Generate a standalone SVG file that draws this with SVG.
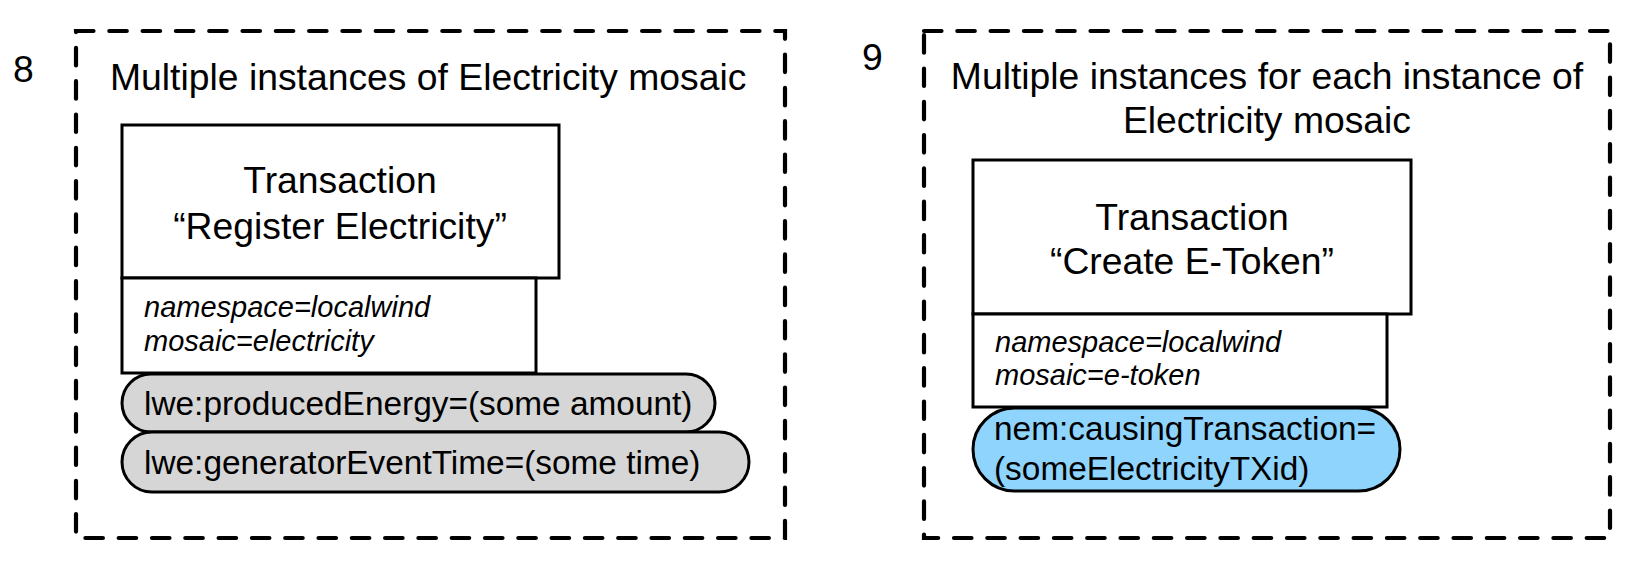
<svg xmlns="http://www.w3.org/2000/svg" width="1645" height="573" viewBox="0 0 1645 573">
<style>
  .dash { fill: none; stroke: #000; stroke-width: 4.2; stroke-dasharray: 17.5 15.8; stroke-linecap: round; }
  .box { fill: #fff; stroke: #000; stroke-width: 3; }
  .gray { fill: #d6d6d6; stroke: #000; stroke-width: 3; }
  .blue { fill: #8fd4fd; stroke: #000; stroke-width: 3; }
  text { font-family: "Liberation Sans", Arial, Helvetica, sans-serif; fill: #000; }
  .big { font-size: 37.3px; }
  .mid { font-size: 33.4px; }
  .it { font-size: 29px; font-style: italic; }
  .c { text-anchor: middle; }
</style>
<rect width="1645" height="573" fill="#fff"/>
<g id="panel8">
  <rect class="dash" x="76" y="31" width="709" height="507"/>
  <text class="big" x="13" y="82">8</text>
  <text class="big" x="110" y="90">Multiple instances of Electricity mosaic</text>
  <g id="tx-register">
    <rect class="box" x="122" y="125" width="437" height="153"/>
    <text class="big c" x="340" y="193">Transaction</text>
    <text class="big c" x="340" y="239">“Register Electricity”</text>
  </g>
  <g id="attrs-register">
    <rect class="box" x="122" y="278" width="414" height="95"/>
    <text class="it" x="144" y="317">namespace=localwind</text>
    <text class="it" x="144" y="351">mosaic=electricity</text>
  </g>
  <g id="prop-energy">
    <rect class="gray" x="122" y="374" width="593" height="58" rx="29" ry="29"/>
    <text class="mid" x="144" y="415">lwe:producedEnergy=(some amount)</text>
  </g>
  <g id="prop-time">
    <rect class="gray" x="122" y="432" width="627" height="60" rx="30" ry="30"/>
    <text class="mid" x="144" y="474">lwe:generatorEventTime=(some time)</text>
  </g>
</g>
<g id="panel9">
  <rect class="dash" x="924" y="31" width="686" height="507"/>
  <text class="big" x="862" y="70">9</text>
  <text class="big c" x="1267" y="89">Multiple instances for each instance of</text>
  <text class="big c" x="1267" y="133">Electricity mosaic</text>
  <g id="tx-etoken">
    <rect class="box" x="973" y="160" width="438" height="154"/>
    <text class="big c" x="1192" y="230">Transaction</text>
    <text class="big c" x="1192" y="274">“Create E-Token”</text>
  </g>
  <g id="attrs-etoken">
    <rect class="box" x="973" y="314" width="414" height="93"/>
    <text class="it" x="995" y="352">namespace=localwind</text>
    <text class="it" x="995" y="385">mosaic=e-token</text>
  </g>
  <g id="prop-causing">
    <rect class="blue" x="973" y="408" width="427" height="83" rx="41.5" ry="41.5"/>
    <text class="mid" x="994" y="440">nem:causingTransaction=</text>
    <text class="mid" x="994" y="480">(someElectricityTXid)</text>
  </g>
</g>
<g id="connectors"></g>
</svg>
